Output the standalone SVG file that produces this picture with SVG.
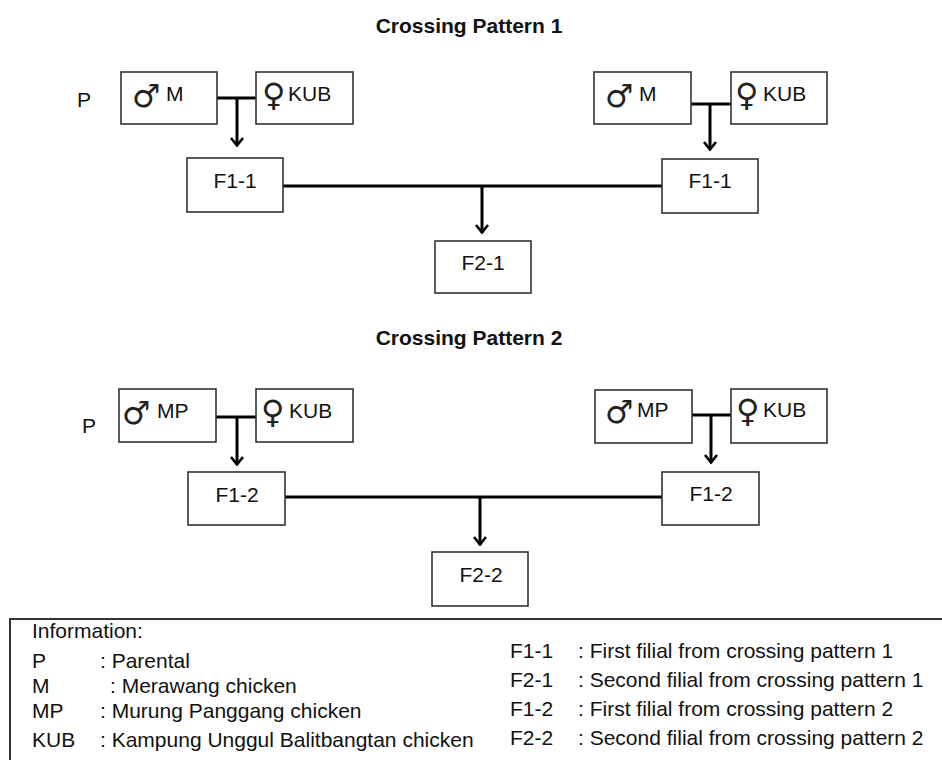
<svg xmlns="http://www.w3.org/2000/svg" width="942" height="760" viewBox="0 0 942 760">
<style>
.box{fill:#fff;stroke:#333;stroke-width:1.6}
.ln{fill:none;stroke:#000;stroke-width:3}
.t{font-family:"Liberation Sans",Arial,sans-serif;font-size:21px;fill:#111}
.c{text-anchor:middle}
.h{font-family:"Liberation Sans",Arial,sans-serif;font-size:21px;font-weight:bold;fill:#111;text-anchor:middle}
.sym{font-family:"DejaVu Sans",sans-serif;font-size:32px;fill:#222}
</style>
<defs>
<marker id="ah" viewBox="-10 -8 12 16" markerWidth="12" markerHeight="16" refX="0" refY="0" orient="auto" markerUnits="userSpaceOnUse">
<path d="M-8,-6 L-0.5,0 L-8,6" fill="none" stroke="#000" stroke-width="2.6"/>
</marker>
</defs>
<rect width="942" height="760" fill="#fff"/>

<text class="h" x="469" y="33">Crossing Pattern 1</text>
<text class="h" x="469" y="345">Crossing Pattern 2</text>
<text class="t" x="77" y="107">P</text>
<text class="t" x="82" y="433">P</text>

<g id="connectors">
<path class="ln" d="M217,98 H256 M237,98 V146" marker-end="url(#ah)"/>
<path class="ln" d="M691,104 H731 M710,104 V150" marker-end="url(#ah)"/>
<path class="ln" d="M283,186 H662 M482,186 V233" marker-end="url(#ah)"/>
<path class="ln" d="M216,417 H256 M237,417 V465" marker-end="url(#ah)"/>
<path class="ln" d="M692,415 H731 M711,415 V463" marker-end="url(#ah)"/>
<path class="ln" d="M285,497 H662 M480,497 V545" marker-end="url(#ah)"/>
</g>

<g id="p1-male-left"><rect class="box" x="121" y="72" width="96" height="52"/><text class="sym" x="132" y="107">♂</text><text class="t" x="166" y="101">M</text></g>
<g id="p1-female-left"><rect class="box" x="256" y="72" width="97" height="52"/><text class="sym" x="262" y="106">♀</text><text class="t" x="288" y="101">KUB</text></g>
<g id="p1-male-right"><rect class="box" x="594" y="72" width="97" height="52"/><text class="sym" x="605" y="107">♂</text><text class="t" x="639" y="101">M</text></g>
<g id="p1-female-right"><rect class="box" x="731" y="72" width="96" height="52"/><text class="sym" x="735" y="106">♀</text><text class="t" x="763" y="101">KUB</text></g>
<g id="f1-1-left"><rect class="box" x="187" y="158" width="96" height="54"/><text class="t c" x="235" y="188">F1-1</text></g>
<g id="f1-1-right"><rect class="box" x="662" y="159" width="96" height="54"/><text class="t c" x="710" y="188">F1-1</text></g>
<g id="f2-1"><rect class="box" x="435" y="241" width="96" height="52"/><text class="t c" x="483" y="270">F2-1</text></g>

<g id="p2-male-left"><rect class="box" x="119" y="389" width="97" height="53"/><text class="sym" x="122" y="424">♂</text><text class="t" x="157" y="418">MP</text></g>
<g id="p2-female-left"><rect class="box" x="256" y="389" width="97" height="53"/><text class="sym" x="261" y="423">♀</text><text class="t" x="289" y="418">KUB</text></g>
<g id="p2-male-right"><rect class="box" x="595" y="390" width="97" height="53"/><text class="sym" x="605" y="423">♂</text><text class="t" x="637" y="417">MP</text></g>
<g id="p2-female-right"><rect class="box" x="731" y="389" width="96" height="54"/><text class="sym" x="736" y="422">♀</text><text class="t" x="763" y="417">KUB</text></g>
<g id="f1-2-left"><rect class="box" x="188" y="472" width="97" height="53"/><text class="t c" x="237" y="502">F1-2</text></g>
<g id="f1-2-right"><rect class="box" x="662" y="472" width="97" height="53"/><text class="t c" x="711" y="501">F1-2</text></g>
<g id="f2-2"><rect class="box" x="432" y="552" width="96" height="54"/><text class="t c" x="481" y="582">F2-2</text></g>

<g id="legend">
<rect x="10" y="619" width="950" height="160" fill="none" stroke="#333" stroke-width="2"/>
<text class="t" x="32" y="638">Information:</text>
<text class="t" x="32" y="668">P</text><text class="t" x="100" y="668">: Parental</text>
<text class="t" x="32" y="693">M</text><text class="t" x="110" y="693">: Merawang chicken</text>
<text class="t" x="32" y="718">MP</text><text class="t" x="100" y="718">: Murung Panggang chicken</text>
<text class="t" x="32" y="747">KUB</text><text class="t" x="100" y="747">: Kampung Unggul Balitbangtan chicken</text>
<text class="t" x="510" y="658">F1-1</text><text class="t" x="578" y="658">: First filial from crossing pattern 1</text>
<text class="t" x="510" y="687">F2-1</text><text class="t" x="578" y="687">: Second filial from crossing pattern 1</text>
<text class="t" x="510" y="716">F1-2</text><text class="t" x="578" y="716">: First filial from crossing pattern 2</text>
<text class="t" x="510" y="745">F2-2</text><text class="t" x="578" y="745">: Second filial from crossing pattern 2</text>
</g>
</svg>
